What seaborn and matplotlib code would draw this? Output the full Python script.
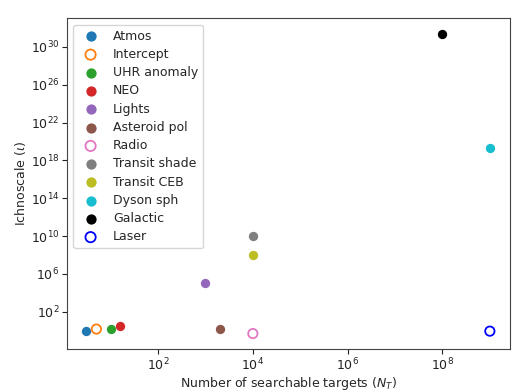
import matplotlib
matplotlib.use("Agg")
import matplotlib.pyplot as plt
import matplotlib.ticker as mticker
import seaborn as sns
import numpy as np

names = ["Atmos", "Intercept", "UHR anomaly", "NEO", "Lights", "Asteroid pol",
         "Radio", "Transit shade", "Transit CEB", "Dyson sph", "Galactic", "Laser"]
n_targets = [3, 5, 10, 16, 1e3, 2e3, 1e4, 1e4, 1e4, 1e9, 1e8, 1e9]
ichnoscale = [0.9, 1.5, 1.5, 3, 1e5, 1.5, 0.5, 1e10, 1e8, 2e19, 2.5e31, 0.9]
colors = ["#1f77b4", "#ff7f0e", "#2ca02c", "#d62728", "#9467bd", "#8c564b",
          "#e377c2", "#7f7f7f", "#bcbd22", "#17becf", "black", "blue"]
open_marker = [False, True, False, False, False, False, True, False, False, False, False, True]

sns.set_style("ticks")
plt.rcParams["font.family"] = ["DejaVu Sans"]
plt.rcParams["font.size"] = 9

fig, ax = plt.subplots(figsize=(5.22, 3.92), dpi=100)
fig.subplots_adjust(left=0.128, right=0.977, bottom=0.110, top=0.953)

for name, x, y, c, op in zip(names, n_targets, ichnoscale, colors, open_marker):
    if op:
        sns.scatterplot(x=[x], y=[y], ax=ax, s=45, label=name,
                        facecolors="none", edgecolor=c, linewidth=1.3)
    else:
        sns.scatterplot(x=[x], y=[y], ax=ax, s=45, label=name,
                        color=c, edgecolor=c, linewidth=0)

ax.set_xscale("log")
ax.set_yscale("log")
ax.set_xlim(10**0.075, 10**9.425)
ax.set_ylim(10**-1.92, 10**33.0)
ax.xaxis.set_major_locator(mticker.FixedLocator([1e2, 1e4, 1e6, 1e8]))
ax.yaxis.set_major_locator(mticker.FixedLocator([10.0**k for k in range(2, 31, 4)]))
ax.xaxis.set_minor_locator(mticker.NullLocator())
ax.yaxis.set_minor_locator(mticker.NullLocator())
ax.xaxis.set_major_formatter(mticker.LogFormatterSciNotation())
ax.yaxis.set_major_formatter(mticker.LogFormatterSciNotation())

for sp in ax.spines.values():
    sp.set_visible(True)
    sp.set_color("#444444")
ax.tick_params(colors="#222222", labelcolor="#222222", labelsize=9,
               length=3.5, pad=2)

ax.set_xlabel("Number of searchable targets ($N_T$)", fontsize=9, labelpad=1)
ax.set_ylabel("Ichnoscale ($\\iota$)", fontsize=9, labelpad=2)
ax.legend(loc="upper left", frameon=True, fontsize=9, handletextpad=0.8,
          borderpad=0.4, labelspacing=0.42, markerscale=1.1)

fig.savefig("out.png", dpi=100)
